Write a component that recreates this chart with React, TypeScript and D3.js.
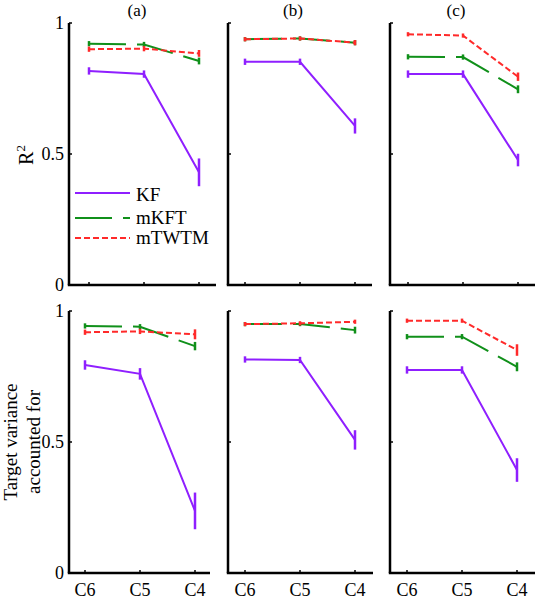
import React from "react";
import * as d3 from "d3";

// ---------- data ----------
const categories = ["C6", "C5", "C4"];
const panelTitles = ["(a)", "(b)", "(c)"];
const seriesNames = ["KF", "mKFT", "mTWTM"];
const seriesColors = ["#8f1fff", "#10901a", "#ff2a2a"];
const seriesDash = ["none", "37,11", "6,3"];
const yTickValues = [0, 0.5, 1];
const yTickLabels = ["0", "0.5", "1"];

// Top row: R^2, panels a, b, c
const r2KF = [[0.817, 0.805, 0.43], [0.852, 0.852, 0.607], [0.805, 0.805, 0.477]];
const r2KFErr = [[0.014, 0.014, 0.053], [0.012, 0.012, 0.029], [0.014, 0.014, 0.024]];
const r2mKFT = [[0.921, 0.918, 0.855], [0.938, 0.941, 0.925], [0.871, 0.870, 0.747]];
const r2mKFTErr = [[0.01, 0.01, 0.013], [0.008, 0.008, 0.01], [0.01, 0.01, 0.015]];
const r2mTWTM = [[0.9, 0.902, 0.884], [0.938, 0.941, 0.925], [0.957, 0.952, 0.795]];
const r2mTWTMErr = [[0.01, 0.01, 0.013], [0.008, 0.008, 0.01], [0.008, 0.008, 0.016]];

// Bottom row: target variance accounted for
const tvKF = [[0.794, 0.76, 0.237], [0.815, 0.813, 0.508], [0.775, 0.775, 0.393]];
const tvKFErr = [[0.018, 0.022, 0.07], [0.012, 0.012, 0.037], [0.014, 0.014, 0.045]];
const tvmKFT = [[0.943, 0.94, 0.866], [0.95, 0.95, 0.927], [0.902, 0.902, 0.787]];
const tvmKFTErr = [[0.01, 0.01, 0.016], [0.008, 0.008, 0.013], [0.01, 0.01, 0.017]];
const tvmTWTM = [[0.919, 0.922, 0.911], [0.95, 0.953, 0.959], [0.963, 0.963, 0.851]];
const tvmTWTMErr = [[0.01, 0.01, 0.019], [0.008, 0.008, 0.008], [0.008, 0.008, 0.022]];

// ---------- layout ----------
const FONT = "\"Liberation Serif\", \"Times New Roman\", serif";
const txt = (size: number) => ({ fontFamily: FONT, fontSize: size });
const rows = [
  {
    y0: 285, y1: 23,
    axisX: [69, 228, 390], firstTick: [89, 245, 408], lastTick: [199, 355, 518], axisEnd: [216, 372, 535],
    values: [r2KF, r2mKFT, r2mTWTM], errors: [r2KFErr, r2mKFTErr, r2mTWTMErr],
  },
  {
    y0: 573, y1: 311,
    axisX: [69, 228, 390], firstTick: [85, 245, 407], lastTick: [195, 355, 517], axisEnd: [210, 373, 535],
    values: [tvKF, tvmKFT, tvmTWTM], errors: [tvKFErr, tvmKFTErr, tvmTWTMErr],
  },
];

function Panel({ row, rIdx, p }: any) {
  const x = d3.scaleLinear().domain([0, categories.length - 1]).range([row.firstTick[p], row.lastTick[p]]);
  const y = d3.scaleLinear().domain([0, 1]).range([row.y0, row.y1]);
  const line = d3.line<number>().x((_, i) => x(i)).y((d) => y(d));
  const ax = row.axisX[p];
  return (
    <g>
      {row.values.map((series: number[][], s: number) => {
        const vals = series[p];
        const errs = row.errors[s][p];
        return (
          <g key={s}>
            <path d={line(vals) || ""} fill="none" stroke={seriesColors[s]} strokeWidth={2}
              strokeDasharray={seriesDash[s] === "none" ? undefined : seriesDash[s]} />
            {vals.map((v, i) => (
              <line key={i} x1={x(i)} x2={x(i)} y1={y(v - errs[i])} y2={y(v + errs[i])}
                stroke={seriesColors[s]} strokeWidth={2.5} />
            ))}
          </g>
        );
      })}
      {/* axes */}
      <line x1={ax} x2={ax} y1={row.y0} y2={row.y1} stroke="#000" strokeWidth={2.5} />
      <line x1={ax - 1.2} x2={row.axisEnd[p]} y1={row.y0} y2={row.y0} stroke="#000" strokeWidth={2.5} />
      {yTickValues.map((t, i) => (
        <g key={i}>
          <line x1={ax} x2={ax + 3} y1={y(t)} y2={y(t)} stroke="#000" strokeWidth={1.5} />
          {p === 0 && (
            <text x={ax - 5} y={y(t)} dy="0.35em" textAnchor="end" style={txt(18)}>
              {yTickLabels[i]}
            </text>
          )}
        </g>
      ))}
      {categories.map((c, i) => (
        <g key={c}>
          <line x1={x(i)} x2={x(i)} y1={row.y0} y2={row.y0 - 3} stroke="#000" strokeWidth={1.5} />
          {rIdx === 1 && (
            <text x={x(i)} y={596} textAnchor="middle" style={txt(18)}>{c}</text>
          )}
        </g>
      ))}
      {rIdx === 0 && (
        <text x={(row.firstTick[p] + row.lastTick[p]) / 2 - 7} y={16} textAnchor="middle" style={txt(17)}>
          {panelTitles[p]}
        </text>
      )}
    </g>
  );
}

const legendY = [193, 218, 238];
const legendTextY = [201, 224, 244];

export default function App() {
  return (
    <svg width={537} height={600} style={{ position: "absolute", left: 0, top: 0, background: "#fff" }}>
      {rows.map((row, r) => [0, 1, 2].map((p) => <Panel key={`${r}-${p}`} row={row} rIdx={r} p={p} />))}
      {/* legend */}
      {seriesNames.map((n, s) => (
        <g key={n}>
          <line x1={75} x2={130} y1={legendY[s]} y2={legendY[s]} stroke={seriesColors[s]} strokeWidth={2}
            strokeDasharray={seriesDash[s] === "none" ? undefined : seriesDash[s]} />
          <text x={136} y={legendTextY[s]} style={txt(19)}>{n}</text>
        </g>
      ))}
      {/* y labels */}
      <text transform="translate(33,155) rotate(-90)" textAnchor="middle" style={txt(20)}>
        R<tspan style={{ fontSize: 13 }} dy={-8}>2</tspan>
      </text>
      <text transform="translate(17,442) rotate(-90)" textAnchor="middle" style={txt(19)}>
        Target variance
      </text>
      <text transform="translate(40,442) rotate(-90)" textAnchor="middle" style={txt(19)}>
        accounted for
      </text>
    </svg>
  );
}
